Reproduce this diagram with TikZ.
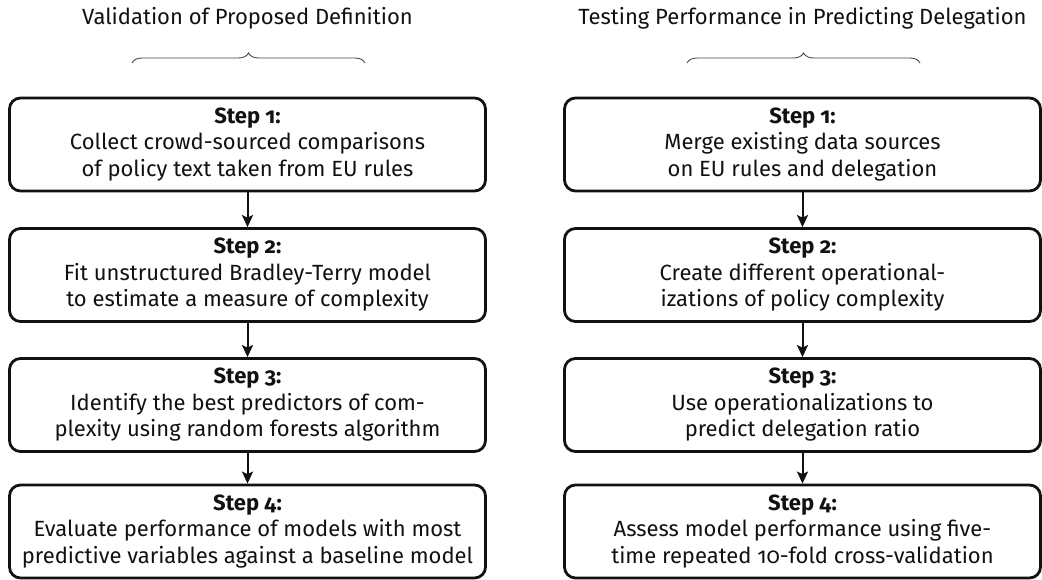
\documentclass[tikz,border=0pt]{standalone}
\usepackage{fontspec}
\setmainfont{Fira Sans}[Numbers=OldStyle]
\usetikzlibrary{arrows.meta,decorations.pathreplacing}
\definecolor{ink}{HTML}{111111}
\definecolor{bracec}{HTML}{444444}
\tikzset{
  x=1pt,y=-1pt,
  stepbox/.style={draw=ink,line width=2.8pt,rounded corners=11pt,
    minimum width=476pt,minimum height=93pt,align=center,inner sep=0pt,
    font=\fontsize{22}{26.5}\selectfont,text=ink},
  flow/.style={draw=ink,line width=2pt,-{Stealth[length=12pt,width=11pt,inset=2.5pt]}},
  coltitle/.style={font=\fontsize{22}{24}\selectfont,text=ink},
  colbrace/.style={draw=bracec,line width=0.9pt,decorate,decoration={brace,amplitude=10pt}}
}
\begin{document}
\begin{tikzpicture}
\useasboundingbox (0,0) rectangle (1042,580);
% titles
\node[coltitle] (tl) at (247.5,18) {Validation of Proposed Definition};
\node[coltitle] (tr) at (802.5,18) {Testing Performance in Predicting Delegation};
\coordinate (bl1) at (132,63); \coordinate (bl2) at (365,63);
\coordinate (br1) at (687,63); \coordinate (br2) at (920,63);
\draw[colbrace] (bl1) -- (bl2);
\draw[colbrace] (br1) -- (br2);
% left column
\node[stepbox] (l1) at (247.5,144.5) {\textbf{Step 1:}\\Collect crowd-sourced comparisons\\of policy text taken from EU rules};
\node[stepbox] (l2) at (247.5,275) {\textbf{Step 2:}\\Fit unstructured Bradley-Terry model\\to estimate a measure of complexity};
\node[stepbox] (l3) at (247.5,405) {\textbf{Step 3:}\\Identify the best predictors of com-\\plexity using random forests algorithm};
\node[stepbox] (l4) at (247.5,531.5) {\textbf{Step 4:}\\Evaluate performance of models with most\\predictive variables against a baseline model};
% right column
\node[stepbox] (r1) at (802.5,144.5) {\textbf{Step 1:}\\Merge existing data sources\\on EU rules and delegation};
\node[stepbox] (r2) at (802.5,275) {\textbf{Step 2:}\\Create different operational-\\izations of policy complexity};
\node[stepbox] (r3) at (802.5,405) {\textbf{Step 3:}\\Use operationalizations to\\predict delegation ratio};
\node[stepbox] (r4) at (802.5,531.5) {\textbf{Step 4:}\\Assess model performance using five-\\time repeated 10-fold cross-validation};
% arrows
\draw[flow] (l1) -- (l2);
\draw[flow] (l2) -- (l3);
\draw[flow] (l3) -- (l4);
\draw[flow] (r1) -- (r2);
\draw[flow] (r2) -- (r3);
\draw[flow] (r3) -- (r4);
\end{tikzpicture}
\end{document}
